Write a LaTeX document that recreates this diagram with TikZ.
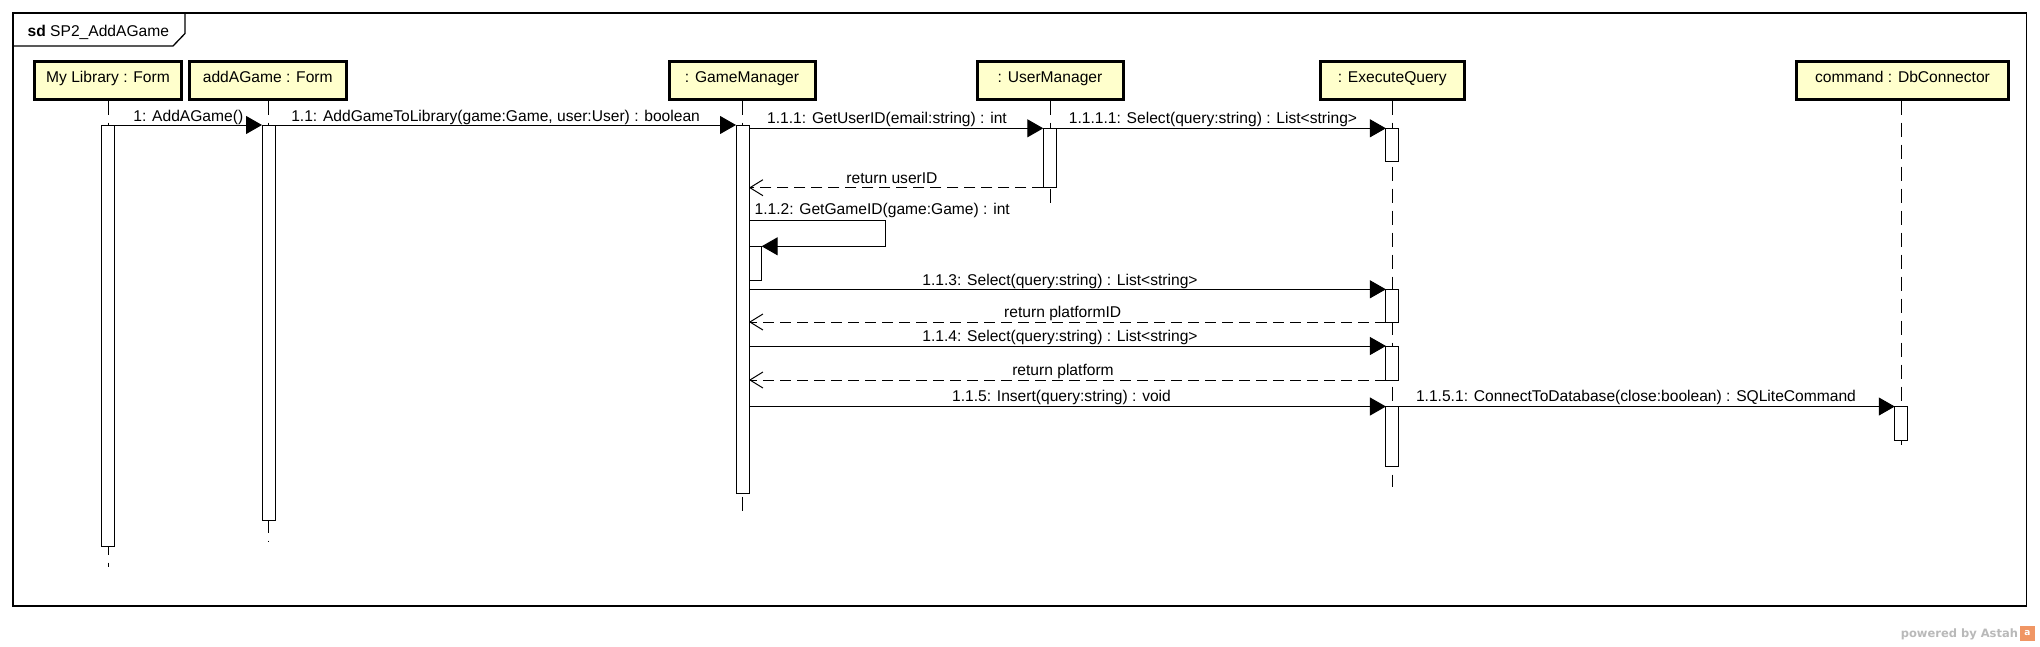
\documentclass[tikz,border=0pt]{standalone}
\usepackage{fontspec}
\setmainfont{Liberation Sans}
\newfontfamily\wmfont{DejaVu Sans}
\usetikzlibrary{arrows.meta}
\definecolor{lifefill}{RGB}{255,255,204}
\definecolor{wmgray}{RGB}{185,185,185}
\definecolor{wmorange}{RGB}{240,150,100}
\begin{document}
\begin{tikzpicture}[x=1pt,y=-1pt, line width=1pt,
  every node/.style={font=\fontsize{15.6}{18}\selectfont, inner sep=0pt, outer sep=0pt},
  head/.style={draw, line width=3pt, fill=lifefill, minimum height=38pt, text height=11pt, text depth=6pt},
  life/.style={dash pattern=on 14pt off 8pt},
  act/.style={draw, fill=white, minimum width=13pt, anchor=north},
  msg/.style={-{Triangle[length=16pt,width=18pt]}},
  ret/.style={dash pattern=on 11pt off 6pt, -{Straight Barb[length=13pt,width=16pt]}},
  lbl/.style={anchor=base},
]
\useasboundingbox (0,0) rectangle (2040,646);
\fill[white] (0,0) rectangle (2040,646);

% frame
\draw[line width=1.3pt] (13,13) rectangle (2026.5,606);
\draw[line width=1.3pt] (13,46) -- (173,46) -- (185,33.5) -- (185,13);
\node[anchor=base west] (tag) at (27.7,36) {\textbf{sd} SP2\_AddAGame};

% lifeline ends
\coordinate (e1) at (108,567);
\coordinate (e2) at (268.5,541);
\coordinate (e3) at (742.5,514);
\coordinate (e4) at (1050,208);
\coordinate (e5) at (1392.5,487);
\coordinate (e6) at (1901,452);

% lifelines
\draw[life] (108,100.5) -- (e1);
\draw[life] (268.5,100.5) -- (e2);
\draw[life] (742.5,100.5) -- (e3);
\draw[life] (1050,100.5) -- (e4);
\draw[life] (1392.5,100.5) -- (e5);
\draw[life] (1901,100.5) -- (e6);

% heads
\node[head, minimum width=147pt] (h1) at (108,80) {My Library : Form};
\node[head, minimum width=157.5pt] (h2) at (267.75,80) {addAGame : Form};
\node[head, minimum width=146pt] (h3) at (742,80) {: GameManager};
\node[head, minimum width=146pt] (h4) at (1050,80) {: UserManager};
\node[head, minimum width=144.5pt] (h5) at (1392.25,80) {: ExecuteQuery};
\node[head, minimum width=212pt] (h6) at (1902.5,80) {command : DbConnector};

% activations
\node[act, minimum height=421.5pt] (a1) at (107.75,125) {};
\node[act, minimum height=395.7pt] (a2) at (268.5,125) {};
\node[act, minimum height=368pt] (a3) at (742.5,125) {};
\node[act, minimum height=59.4pt] (a4) at (1049.75,128.3) {};
\node[act, minimum height=32.7pt] (a5a) at (1392.4,128.3) {};
\node[act, minimum width=12pt, minimum height=33.7pt] (a3b) at (755.65,246.3) {};
\node[act, minimum height=32.7pt] (a5b) at (1392.4,289.3) {};
\node[act, minimum height=34pt] (a5c) at (1392.4,346) {};
\node[act, minimum height=60pt] (a5d) at (1392.4,406.5) {};
\node[act, minimum height=33.5pt] (a6) at (1901.25,406.5) {};

% messages
\draw[msg] (a1.north east) -- (a2.north west);
\draw[msg] (a2.north east) -- (a3.north west);
\draw[msg] (a3.east |- a4.north) -- (a4.north west);
\draw[msg] (a4.north east) -- (a5a.north west);
\draw[ret] (a4.south west) -- (a3.east |- a4.south);
\coordinate (s1) at (885,220);
\coordinate (s2) at (885,246.3);
\draw[msg] (a3.east |- s1) -- (s1) -- (s2) -- (a3b.north east);
\draw[msg] (a3.east |- a5b.north) -- (a5b.north west);
\draw[ret] (a5b.south west) -- (a3.east |- a5b.south);
\draw[msg] (a3.east |- a5c.north) -- (a5c.north west);
\draw[ret] (a5c.south west) -- (a3.east |- a5c.south);
\draw[msg] (a3.east |- a5d.north) -- (a5d.north west);
\draw[msg] (a5d.north east) -- (a6.north west);

% labels
\node[lbl] (l1) at (188.3,121) {1: AddAGame()};
\node[lbl] (l2) at (495.6,121) {1.1: AddGameToLibrary(game:Game, user:User) : boolean};
\node[lbl] (l3) at (887,123) {1.1.1: GetUserID(email:string) : int};
\node[lbl] (l4) at (1213,123) {1.1.1.1: Select(query:string) : List<string>};
\node[lbl] (l5) at (892,183) {return userID};
\node[lbl, anchor=base west] (l6) at (754.6,214) {1.1.2: GetGameID(game:Game) : int};
\node[lbl] (l7) at (1060,285) {1.1.3: Select(query:string) : List<string>};
\node[lbl] (l8) at (1062.7,317.5) {return platformID};
\node[lbl] (l9) at (1060,341) {1.1.4: Select(query:string) : List<string>};
\node[lbl] (l10) at (1063,375) {return platform};
\node[lbl] (l11) at (1061.5,401.7) {1.1.5: Insert(query:string) : void};
\node[lbl] (l12) at (1636,401.7) {1.1.5.1: ConnectToDatabase(close:boolean) : SQLiteCommand};

% watermark
\node[anchor=base east, text=wmgray, font=\wmfont\bfseries\fontsize{11.5}{13}\selectfont] (wm) at (2018,637.5) {powered by Astah};
\node[fill=wmorange, minimum size=15pt, anchor=west, text=white, font=\wmfont\bfseries\fontsize{9}{10}\selectfont] (icon) at (2020,633.5) {a};
\end{tikzpicture}
\end{document}
